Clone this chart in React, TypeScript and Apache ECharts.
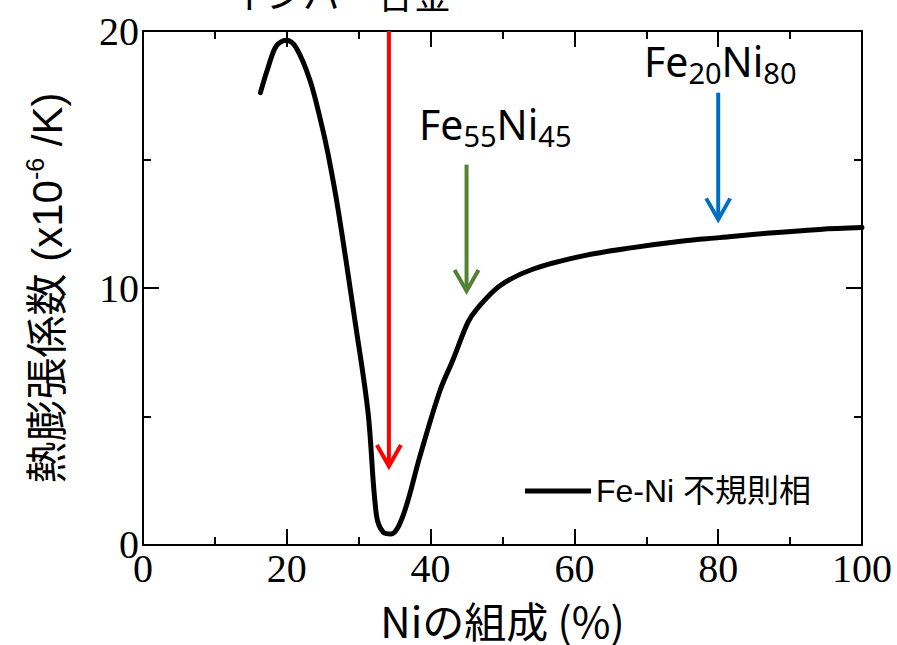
import { useEffect, useRef } from "react";
import * as echarts from "echarts";

// Ni composition (%) and thermal expansion coefficient (x10^-6 /K)
const niPercent = [16.33, 17.4, 18.55, 19.94, 21.3, 23.2, 24.8, 25.73, 27.12, 29.44, 31.29, 32.46, 33.4, 34.5, 36.2, 38.5, 41.3, 43.1, 45.2, 46.4, 49.6, 54.2, 61.2, 68.1, 75.1, 80.2, 86.7, 94.1, 100];
const expansion = [17.6, 18.58, 19.42, 19.64, 19.35, 18.1, 16.4, 15.22, 13.08, 8.8, 5.18, 1.17, 0.5, 0.43, 1.17, 3.44, 6.0, 7.2, 8.67, 9.17, 10.08, 10.73, 11.25, 11.57, 11.83, 11.96, 12.13, 12.28, 12.35];

const seriesName = "Fe-Ni 不規則相";

// annotation arrows: x position, start value, tip value
const arrowX = [34.2, 45, 80];
const arrowStart = [20, 14.8, 17.6];
const arrowTip = [3.07, 9.88, 12.67];
const arrowColors = ["#ff0000", "#548235", "#0070c0"];

const xTicks = { min: 0, max: 100, interval: 20 };
const yTicks = { min: 0, max: 20, interval: 10 };

const serif = '"Liberation Serif", "Times New Roman", serif';
const sans = '"Liberation Sans", Arial, "Noto Sans CJK JP", sans-serif';
const cjk = '"Noto Sans CJK JP", "Noto Sans", sans-serif';
const noto = '"Noto Sans", sans-serif';

export default function App() {
  const ref = useRef<HTMLDivElement>(null);

  useEffect(() => {
    if (!ref.current) return;
    const chart = echarts.init(ref.current, null, { renderer: "svg" });

    const axisLine = { show: true, onZero: false, lineStyle: { color: "#000", width: 2 } };
    const axisTick = { show: true, inside: true, length: 16, lineStyle: { color: "#000", width: 2 } };
    const minorTick = { show: true, splitNumber: 2, length: 8, lineStyle: { color: "#000", width: 2 } };

    const curve = niPercent.map((x, i) => [x, expansion[i]]);
    const arrows = arrowX.map((x, i) => [x, arrowStart[i], arrowTip[i]]);

    const subRich = {
      a: { fontSize: 41, lineHeight: 60, fontFamily: noto, color: "#000" },
      b: { fontSize: 29, padding: [22, 0, 0, 0], fontFamily: noto, color: "#000" },
    };

    chart.setOption({
      animation: false,
      backgroundColor: "#fff",
      grid: { left: 143, right: 35, top: 31, bottom: 99, containLabel: false },
      legend: {
        data: [seriesName],
        left: 520,
        top: 470,
        icon: "rect",
        itemWidth: 66,
        itemHeight: 5,
        itemGap: 10,
        textStyle: { fontSize: 32, color: "#000", fontFamily: sans },
        selectedMode: false,
      },
      xAxis: [
        {
          type: "value",
          position: "bottom",
          ...xTicks,
          axisLine,
          axisTick,
          minorTick,
          splitLine: { show: false },
          axisLabel: { show: true, color: "#000", fontSize: 40, fontFamily: serif, margin: 4 },
          name: "Niの組成 (%)",
          nameLocation: "middle",
          nameGap: 53,
          nameTextStyle: { fontSize: 42, color: "#000", fontFamily: cjk },
        },
        {
          type: "value",
          position: "top",
          ...xTicks,
          axisLine,
          axisTick,
          minorTick,
          splitLine: { show: false },
          axisLabel: { show: false },
        },
      ],
      yAxis: [
        {
          type: "value",
          position: "left",
          ...yTicks,
          axisLine,
          axisTick,
          minorTick,
          splitLine: { show: false },
          axisLabel: { show: true, color: "#000", fontSize: 40, fontFamily: serif, margin: 4 },
          name: "{a|熱膨張係数 (x10}{b|-6}{a| /K)}",
          nameLocation: "middle",
          nameRotate: 90,
          nameGap: 71,
          nameTextStyle: {
            rich: {
              a: { fontSize: 42, lineHeight: 50, color: "#000", fontFamily: sans },
              b: { fontSize: 25, lineHeight: 36, verticalAlign: "top", color: "#000", fontFamily: sans },
            },
          },
        },
        {
          type: "value",
          position: "right",
          ...yTicks,
          axisLine,
          axisTick,
          minorTick,
          splitLine: { show: false },
          axisLabel: { show: false },
        },
      ],
      graphic: [
        {
          type: "text",
          silent: true,
          style: {
            text: "インバー合金",
            x: 340,
            y: -7,
            textAlign: "center",
            textVerticalAlign: "middle",
            fontSize: 37,
            fontFamily: cjk,
            fill: "#000",
          },
        },
        {
          type: "text",
          silent: true,
          style: {
            text: "{a|Fe}{b|55}{a|Ni}{b|45}",
            x: 419,
            y: 94,
            textAlign: "left",
            textVerticalAlign: "top",
            fill: "#000",
            rich: subRich,
          },
        },
        {
          type: "text",
          silent: true,
          style: {
            text: "{a|Fe}{b|20}{a|Ni}{b|80}",
            x: 644,
            y: 31,
            textAlign: "left",
            textVerticalAlign: "top",
            fill: "#000",
            rich: subRich,
          },
        },
      ],
      series: [
        {
          name: seriesName,
          type: "line",
          data: curve,
          smooth: 0.35,
          showSymbol: false,
          symbol: "none",
          lineStyle: { color: "#000", width: 5, cap: "round", join: "round" },
          itemStyle: { color: "#000" },
          silent: true,
          z: 3,
        },
        {
          name: "arrows",
          type: "custom",
          data: arrows,
          encode: { x: 0, y: [1, 2] },
          silent: true,
          clip: false,
          z: 4,
          renderItem: (params: any, api: any) => {
            const x = api.value(0);
            const p1 = api.coord([x, api.value(1)]);
            const p2 = api.coord([x, api.value(2)]);
            const color = arrowColors[params.dataIndex];
            return {
              type: "group",
              children: [
                {
                  type: "line",
                  shape: { x1: p1[0], y1: p1[1], x2: p2[0], y2: p2[1] - 2 },
                  style: { stroke: color, lineWidth: 4 },
                },
                {
                  type: "polyline",
                  shape: {
                    points: [
                      [p2[0] - 12, p2[1] - 21],
                      [p2[0], p2[1]],
                      [p2[0] + 12, p2[1] - 21],
                    ],
                  },
                  style: { stroke: color, lineWidth: 4, fill: "none", lineJoin: "miter" },
                },
              ],
            };
          },
        },
      ],
    });

    return () => chart.dispose();
  }, []);

  return (
    <div
      ref={ref}
      style={{ position: "fixed", left: 0, top: 0, width: 897, height: 645, background: "#fff" }}
    />
  );
}
